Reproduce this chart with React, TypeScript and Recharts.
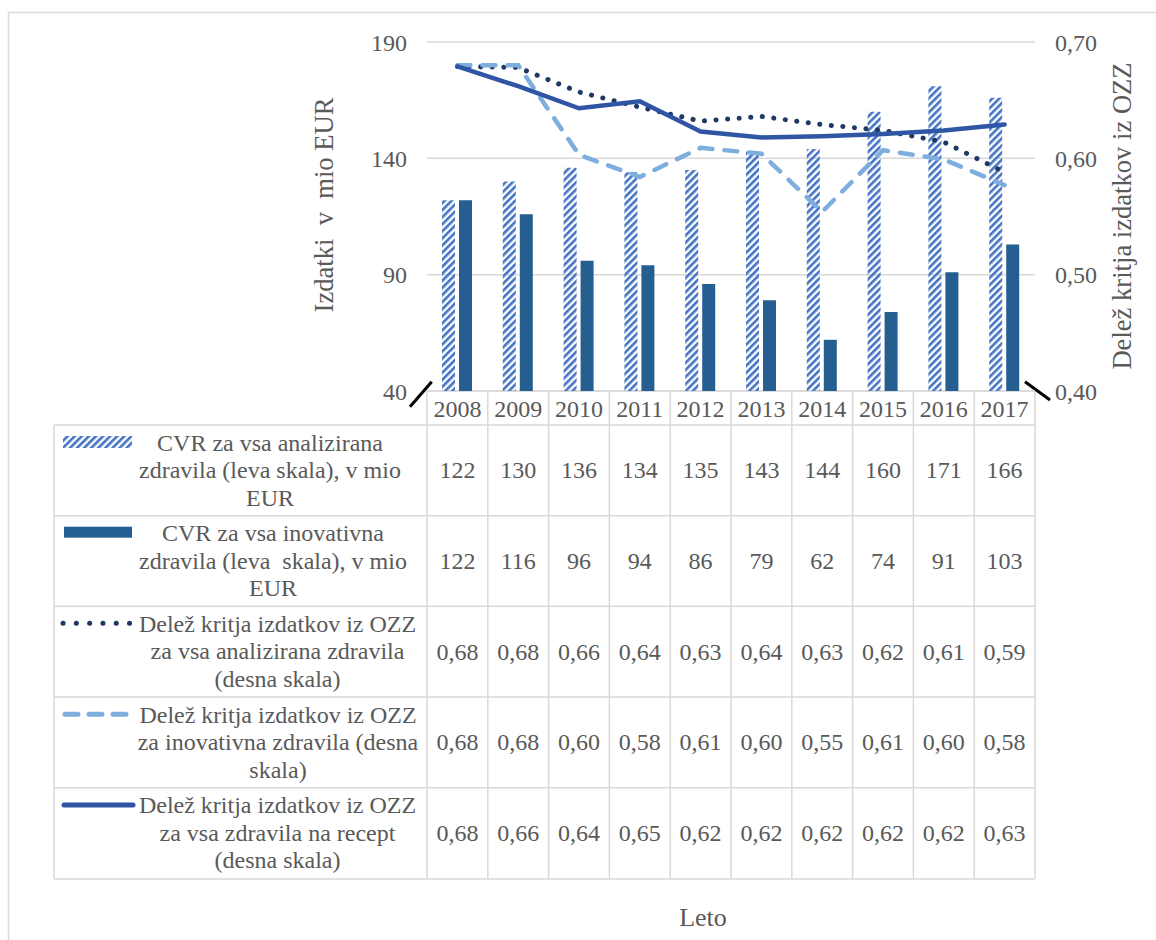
import React from 'react';
import { ComposedChart, Bar, Line, XAxis, YAxis, CartesianGrid } from 'recharts';

const years = ['2008', '2009', '2010', '2011', '2012', '2013', '2014', '2015', '2016', '2017'];
const cvrAll = [122, 130, 136, 134, 135, 143, 144, 160, 171, 166];
const cvrInnov = [122, 116, 96, 94, 86, 79, 62, 74, 91, 103];
const shareAll = [0.679, 0.678, 0.657, 0.644, 0.632, 0.636, 0.629, 0.624, 0.614, 0.588];
const shareInnov = [0.68, 0.68, 0.603, 0.584, 0.609, 0.604, 0.554, 0.607, 0.599, 0.577];
const shareRx = [0.679, 0.662, 0.643, 0.649, 0.623, 0.618, 0.619, 0.621, 0.624, 0.629];
const leftTicks = [40, 90, 140, 190];
const rightTicks = [0.4, 0.5, 0.6, 0.7];

const legendRows = [
  ['CVR za vsa analizirana', 'zdravila (leva skala), v mio', 'EUR'],
  ['CVR za vsa inovativna', 'zdravila (leva  skala), v mio', 'EUR'],
  ['Delež kritja izdatkov iz OZZ', 'za vsa analizirana zdravila', '(desna skala)'],
  ['Delež kritja izdatkov iz OZZ', 'za inovativna zdravila (desna', 'skala)'],
  ['Delež kritja izdatkov iz OZZ', 'za vsa zdravila na recept', '(desna skala)'],
];

const data = years.map((y, i) => ({
  year: y,
  cvrAll: cvrAll[i],
  cvrInnov: cvrInnov[i],
  shareAll: shareAll[i],
  shareInnov: shareInnov[i],
  shareRx: shareRx[i],
}));

const C_HATCH = '#4472C4';
const C_BAR = '#255E91';
const C_DOT = '#1F3864';
const C_DASH = '#7DAEDD';
const C_SOLID = '#2F55A4';
const TXT = '#595959';
const GRID = '#D9D9D9';
const FONT = '"Liberation Serif", "Times New Roman", serif';

const PL = 427;
const PR = 1035;
const COLW = (PR - PL) / years.length;
const rowTops = [425, 515.7, 606.3, 697, 787.7, 879];
const legendCenters = [270, 273, 277.5, 278, 277.5];

const fmtComma = (v: number) => v.toFixed(2).replace('.', ',');
const tableValues: string[][] = [
  cvrAll.map((v) => String(v)),
  cvrInnov.map((v) => String(v)),
  shareAll.map(fmtComma),
  shareInnov.map(fmtComma),
  shareRx.map(fmtComma),
];

function Overlay() {
  const lines: React.ReactNode[] = [];
  // vertical column lines
  for (let i = 0; i <= years.length; i++) {
    const x = PL + i * COLW;
    lines.push(<line key={'v' + i} x1={x} x2={x} y1={391} y2={879} stroke={GRID} strokeWidth={1.5} />);
  }
  lines.push(<line key="vl" x1={54} x2={54} y1={425} y2={879} stroke={GRID} strokeWidth={1.5} />);
  lines.push(<line key="hTop" x1={PL} x2={PR} y1={391} y2={391} stroke={GRID} strokeWidth={1.5} />);
  rowTops.forEach((y, i) => {
    lines.push(<line key={'h' + i} x1={54} x2={PR} y1={y} y2={y} stroke={GRID} strokeWidth={1.5} />);
  });

  const samples = [
    <rect key="s0" x={63} y={rowTops[0] + 11} width={69} height={12} fill="url(#hatchLegend)" />,
    <rect key="s1" x={64} y={rowTops[1] + 11} width={68} height={11} fill={C_BAR} />,
    <line key="s2" x1={63} x2={130} y1={rowTops[2] + 17} y2={rowTops[2] + 17} stroke={C_DOT} strokeWidth={5} strokeLinecap="round" strokeDasharray="0.1 13.2" />,
    <line key="s3" x1={65} x2={129} y1={rowTops[3] + 17.3} y2={rowTops[3] + 17.3} stroke={C_DASH} strokeWidth={5} strokeLinecap="round" strokeDasharray="13 11" />,
    <line key="s4" x1={64} x2={133} y1={rowTops[4] + 17.3} y2={rowTops[4] + 17.3} stroke={C_SOLID} strokeWidth={5} strokeLinecap="round" />,
  ];

  return (
    <svg width={1156} height={940} style={{ position: 'absolute', left: 0, top: 0 }} fontFamily={FONT}>
      <defs>
        <pattern id="hatchLegend" patternUnits="userSpaceOnUse" width={5} height={5} patternTransform="rotate(45)">
          <rect x={0} y={0} width={2.6} height={5} fill={C_HATCH} />
        </pattern>
      </defs>
      <rect x={8.5} y={12.5} width={1400} height={1200} fill="none" stroke={GRID} strokeWidth={1.5} />
      {lines}
      {years.map((y, i) => (
        <text key={'y' + i} x={PL + (i + 0.5) * COLW} y={409} textAnchor="middle" dominantBaseline="central" fontSize={24} fill={TXT}>
          {y}
        </text>
      ))}
      {tableValues.map((row, r) =>
        row.map((v, i) => (
          <text
            key={'t' + r + '-' + i}
            x={PL + (i + 0.5) * COLW}
            y={(rowTops[r] + rowTops[r + 1]) / 2}
            textAnchor="middle"
            dominantBaseline="central"
            fontSize={24}
            fill={TXT}
          >
            {v}
          </text>
        ))
      )}
      {legendRows.map((rowLines, r) =>
        rowLines.map((t, k) => (
          <text
            key={'l' + r + '-' + k}
            x={legendCenters[r]}
            y={rowTops[r] + 25.5 + k * 27.5}
            textAnchor="middle"
            fontSize={24}
            fill={TXT}
            style={{ whiteSpace: 'pre' }}
          >
            {t}
          </text>
        ))
      )}
      {samples}
      <line x1={410} y1={406.7} x2={431.7} y2={381.7} stroke="#000" strokeWidth={3} />
      <line x1={1025} y1={381.7} x2={1050} y2={400} stroke="#000" strokeWidth={3} />
      <text
        x={0}
        y={0}
        transform="translate(324 205) rotate(-90)"
        textAnchor="middle"
        dominantBaseline="central"
        fontSize={26.6}
        fill={TXT}
        style={{ whiteSpace: 'pre' }}
      >
        {'Izdatki  v  mio EUR'}
      </text>
      <text
        x={0}
        y={0}
        transform="translate(1122 216) rotate(-90)"
        textAnchor="middle"
        dominantBaseline="central"
        fontSize={26.6}
        fill={TXT}
      >
        Delež kritja izdatkov iz OZZ
      </text>
      <text x={703} y={926} textAnchor="middle" fontSize={26} fill={TXT}>
        Leto
      </text>
    </svg>
  );
}

export default function App() {
  return (
    <div style={{ position: 'absolute', left: 0, top: 0, width: 1156, height: 940, background: '#fff' }}>
      <Overlay />
      <div style={{ position: 'absolute', left: 0, top: 0 }}>
        <ComposedChart
          width={1156}
          height={940}
          data={data}
          margin={{ top: 42, right: 61, bottom: 549, left: 367 }}
          barSize={13}
          barGap={4}
        >
          <defs>
            <pattern id="hatchBar" patternUnits="userSpaceOnUse" width={5} height={5} patternTransform="rotate(45)">
              <rect x={0} y={0} width={2.6} height={5} fill={C_HATCH} />
            </pattern>
          </defs>
          <CartesianGrid vertical={false} stroke={GRID} strokeWidth={1.5} yAxisId="left" />
          <XAxis dataKey="year" hide />
          <YAxis
            yAxisId="left"
            orientation="left"
            width={60}
            domain={[40, 190]}
            ticks={leftTicks}
            axisLine={false}
            tickLine={false}
            tickSize={0}
            tickMargin={20}
            tick={{ fill: TXT, fontSize: 24, fontFamily: FONT }}
            interval={0}
          />
          <YAxis
            yAxisId="right"
            orientation="right"
            width={60}
            domain={[0.4, 0.7]}
            ticks={rightTicks}
            axisLine={false}
            tickLine={false}
            tickSize={0}
            tickMargin={20}
            tickFormatter={(v: number) => fmtComma(v)}
            tick={{ fill: TXT, fontSize: 24, fontFamily: FONT }}
            interval={0}
          />
          <Bar yAxisId="left" dataKey="cvrAll" fill="url(#hatchBar)" isAnimationActive={false} />
          <Bar yAxisId="left" dataKey="cvrInnov" fill={C_BAR} isAnimationActive={false} />
          <Line
            yAxisId="right"
            type="linear"
            dataKey="shareAll"
            stroke={C_DOT}
            strokeWidth={5}
            strokeLinecap="round"
            strokeDasharray="0.1 11.5"
            dot={false}
            isAnimationActive={false}
          />
          <Line
            yAxisId="right"
            type="linear"
            dataKey="shareInnov"
            stroke={C_DASH}
            strokeWidth={4.5}
            strokeLinecap="round"
            strokeDasharray="13 12"
            dot={false}
            isAnimationActive={false}
          />
          <Line
            yAxisId="right"
            type="linear"
            dataKey="shareRx"
            stroke={C_SOLID}
            strokeWidth={4.5}
            strokeLinecap="round"
            dot={false}
            isAnimationActive={false}
          />
        </ComposedChart>
      </div>
    </div>
  );
}
